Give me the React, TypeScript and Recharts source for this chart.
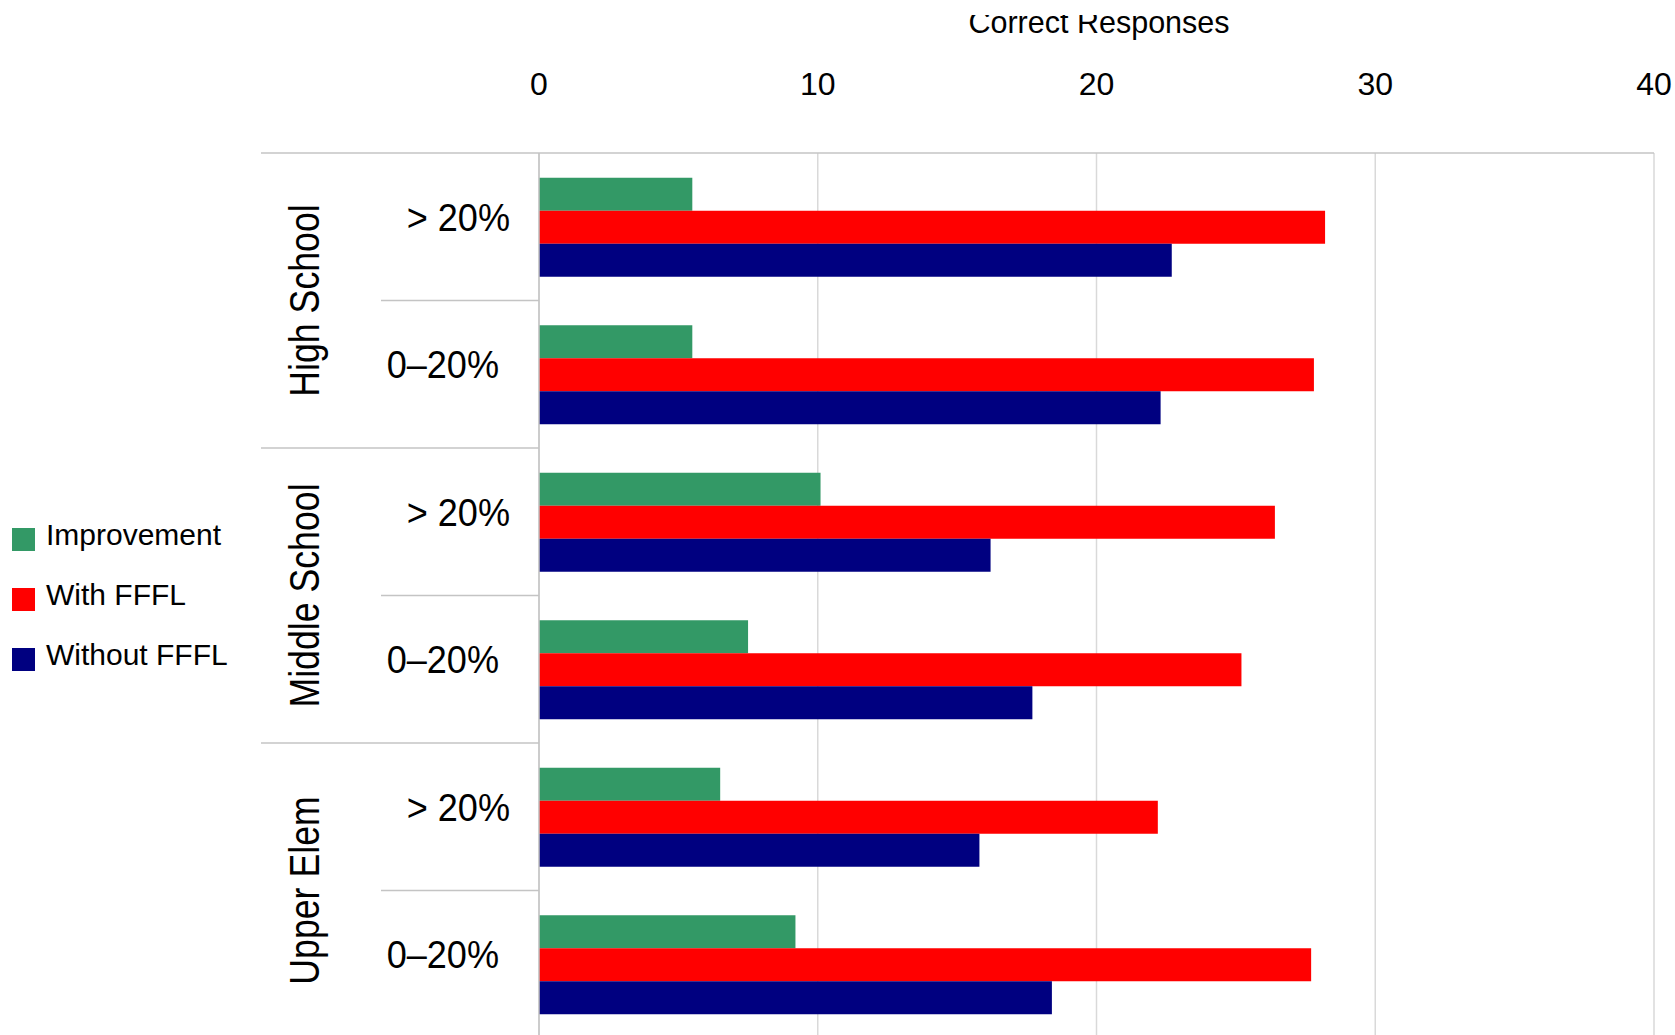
import React from 'react';
import { BarChart, Bar, XAxis, YAxis, CartesianGrid, Legend, Customized } from 'recharts';

// ---- data ----
const GROUPS = ['High School', 'High School', 'Middle School', 'Middle School', 'Upper Elem', 'Upper Elem'];
const BANDS = ['> 20%', '0–20%', '> 20%', '0–20%', '> 20%', '0–20%'];
const IMPROVEMENT = [5.5, 5.5, 10.1, 7.5, 6.5, 9.2];
const WITH_FFFL = [28.2, 27.8, 26.4, 25.2, 22.2, 27.7];
const WITHOUT_FFFL = [22.7, 22.3, 16.2, 17.7, 15.8, 18.4];
const X_TICKS = [0, 10, 20, 30, 40];
const X_TITLE = 'Correct Responses';

const rows = GROUPS.map((group, i) => ({
  id: `${group} ${BANDS[i]}`,
  group,
  band: BANDS[i],
  improvement: IMPROVEMENT[i],
  withFFFL: WITH_FFFL[i],
  withoutFFFL: WITHOUT_FFFL[i],
}));

// ---- layout / style ----
const FONT = "'Liberation Sans', Arial, Helvetica, sans-serif";
const CHART_W = 1675;
const CHART_H = 1038;
const MARGIN = { top: 113, right: 21, bottom: 0, left: 0 };
const X_AXIS_H = 40;
const Y_AXIS_W = 539;
const PLOT_LEFT = MARGIN.left + Y_AXIS_W;
const PLOT_TOP = MARGIN.top + X_AXIS_H;
const PLOT_H = CHART_H - PLOT_TOP - MARGIN.bottom;
const ROW_H = PLOT_H / rows.length;

const GRID = '#d9d9d9';
const AXIS = '#c4c4c4';
const GROUP_RULE_X = 261;
const BAND_RULE_X = 381;
const GROUP_LABEL_X = 319;
const BAND_LABEL_RIGHT: Record<string, number> = { '> 20%': 510, '0–20%': 499 };

const COLORS = { improvement: '#339966', withFFFL: '#ff0000', withoutFFFL: '#000080' };

function ValueTick(props: any) {
  const { x, payload } = props;
  return (
    <text x={x} y={95} textAnchor="middle" fontSize={32} fontFamily={FONT} fill="#000">
      {payload.value}
    </text>
  );
}

function RowTick(props: any) {
  const { y, payload } = props;
  const i = props.index ?? payload?.index ?? 0;
  const row = rows[i];
  if (!row) return null;
  const top = y - ROW_H / 2;
  const first = i === 0 || rows[i - 1].group !== row.group;
  const groupCount = rows.filter((r) => r.group === row.group).length;
  const groupMid = top + (groupCount * ROW_H) / 2;
  return (
    <g>
      <line
        x1={first ? GROUP_RULE_X : BAND_RULE_X}
        x2={PLOT_LEFT}
        y1={top}
        y2={top}
        stroke={AXIS}
        strokeWidth={1.5}
      />
      <text
        transform={`translate(${BAND_LABEL_RIGHT[row.band] ?? 505}, ${y + 4}) scale(0.95, 1)`}
        textAnchor="end"
        fontSize={38}
        fontFamily={FONT}
        fill="#000"
      >
        {row.band}
      </text>
      {first && (
        <text
          transform={`translate(${GROUP_LABEL_X}, ${groupMid}) rotate(-90) scale(0.85, 1)`}
          textAnchor="middle"
          fontSize={42}
          fontFamily={FONT}
          fill="#000"
        >
          {row.group}
        </text>
      )}
    </g>
  );
}

function AxisTitle() {
  return (
    <g>
      <defs>
        <clipPath id="title-clip">
          <rect x={0} y={15} width={CHART_W} height={60} />
        </clipPath>
      </defs>
      <text
        x={1099}
        y={33}
        textAnchor="middle"
        fontSize={30.5}
        fontFamily={FONT}
        fill="#000"
        clipPath="url(#title-clip)"
      >
        {X_TITLE}
      </text>
    </g>
  );
}

function LegendBox(props: any) {
  const items = props.payload || [];
  return (
    <svg width={250} height={190} style={{ display: 'block', overflow: 'visible' }}>
      {items.map((e: any, i: number) => (
        <g key={e.value}>
          <rect x={12} y={28 + i * 60} width={23} height={23} fill={e.color} />
          <text x={46} y={45 + i * 60} fontSize={30} fontFamily={FONT} fill="#000">
            {e.value}
          </text>
        </g>
      ))}
    </svg>
  );
}

export default function App() {
  return (
    <div
      style={{
        position: 'absolute',
        left: 0,
        top: 0,
        width: CHART_W,
        height: 1035,
        overflow: 'hidden',
        background: '#fff',
      }}
    >
      <BarChart
        width={CHART_W}
        height={CHART_H}
        data={rows}
        layout="vertical"
        margin={MARGIN}
        barCategoryGap="16.8%"
        barGap={0}
      >
        <CartesianGrid vertical horizontal={false} stroke={GRID} strokeWidth={1.5} />
        <XAxis
          type="number"
          orientation="top"
          domain={[0, 40]}
          ticks={X_TICKS}
          interval={0}
          height={X_AXIS_H}
          tickLine={false}
          axisLine={{ stroke: AXIS, strokeWidth: 1.5 }}
          tick={<ValueTick />}
        />
        <YAxis
          type="category"
          dataKey="id"
          width={Y_AXIS_W}
          interval={0}
          tickLine={false}
          axisLine={{ stroke: AXIS, strokeWidth: 1.5 }}
          tick={<RowTick />}
        />
        <Legend
          layout="vertical"
          align="center"
          verticalAlign="middle"
          content={<LegendBox />}
          wrapperStyle={{ left: 0, top: 500, width: 250, height: 190 }}
        />
        <Bar dataKey="improvement" name="Improvement" fill={COLORS.improvement} isAnimationActive={false} />
        <Bar dataKey="withFFFL" name="With FFFL" fill={COLORS.withFFFL} isAnimationActive={false} />
        <Bar dataKey="withoutFFFL" name="Without FFFL" fill={COLORS.withoutFFFL} isAnimationActive={false} />
        <Customized component={<AxisTitle />} />
      </BarChart>
    </div>
  );
}
